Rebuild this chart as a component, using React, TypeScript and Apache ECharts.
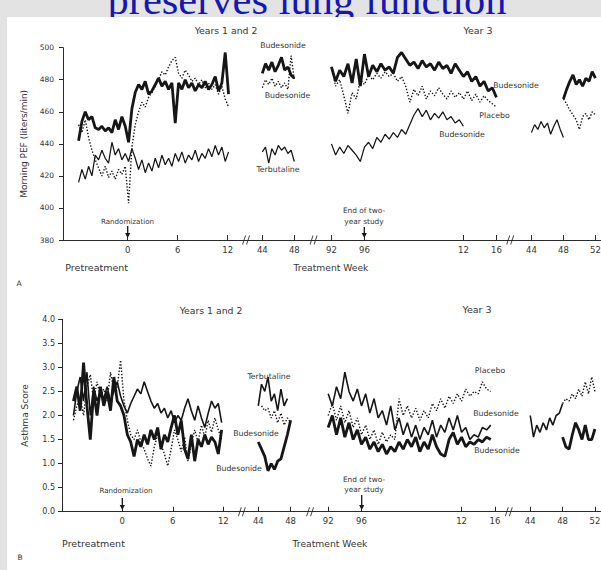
import React, { useEffect, useRef } from "react";
import * as echarts from "echarts";

// ---------- axis ticks ----------
const tickWeeks = [0, 6, 12, 44, 48, 92, 96, 108, 112, 140, 144, 148];
const tickLabels = ["0", "6", "12", "44", "48", "92", "96", "12", "16", "44", "48", "52"];
const breakPositions = [14.2, 22.3, 45.9];
const pefTicks = { min: 380, max: 500, interval: 20 };
const scoreTicks = { min: 0, max: 4, interval: 0.5 };

// ---------- Morning PEF (panel A) ----------
// years 1-2, weeks -5.9 .. 12.1, step 0.4
const pefThickA = [442,454,460,455,457,450,449,451,448,450,447,455,449,457,451,441,462,472,477,474,479,471,473,477,481,476,479,474,478,453,478,474,480,475,478,473,477,475,479,474,477,482,473,478,497,471];
const pefDotA = [452,447,455,444,436,430,425,420,426,419,423,418,424,421,426,403,438,452,460,466,463,469,472,476,480,485,483,488,492,494,484,481,486,483,479,481,477,480,475,478,474,477,471,476,468,463];
const pefThinA = [416,424,418,426,420,433,430,436,431,428,441,433,437,430,434,429,437,431,424,430,422,428,423,431,425,433,427,431,426,434,429,435,428,433,430,436,429,434,431,437,432,439,433,438,429,435];
// weeks 44 .. 48, step 0.4
const pefThickB = [484,490,486,491,485,489,494,486,488,483,481];
const pefDotB = [475,480,477,481,476,479,475,478,474,495,480];
const pefThinB = [435,438,428,437,433,439,436,438,434,436,429];
// weeks 92 .. 112, step 0.5
const pefThickC = [488,479,486,482,490,478,493,476,496,482,489,485,490,486,488,484,494,497,493,489,491,487,492,488,490,486,491,487,489,484,490,486,482,485,479,482,476,479,473,475,469];
const pefDotC = [488,476,480,470,459,472,468,480,477,483,480,484,481,485,482,484,479,482,476,466,474,470,476,468,473,470,475,471,468,473,469,472,468,473,467,471,466,470,467,465,463];
const pefThinC = [440,433,438,434,439,436,433,429,438,441,437,444,441,446,443,447,444,449,446,452,458,462,457,461,455,459,456,460,455,457,453,455,451];
// weeks 140/144 .. , step 0.4
const pefThickD = [468,474,479,483,477,480,476,481,479,485,481];
const pefDotD = [468,465,461,458,455,449,457,459,455,460,458];
const pefThinD = [447,452,449,454,450,453,446,451,455,449,444];

// ---------- Asthma score (panel B) ----------
// weeks -5.8 .. 11.8, step 0.4
const scoreThickA = [2.3,2.6,2.1,3.1,2.2,1.5,2.5,2.0,2.6,2.2,2.5,2.1,2.8,2.3,2.2,2.0,1.6,1.45,1.15,1.5,1.35,1.6,1.4,1.7,1.5,1.75,1.3,1.6,1.45,1.75,2.0,1.6,1.9,1.3,1.1,1.6,1.05,1.5,1.35,1.6,1.4,1.55,1.45,1.2,1.7];
const scoreThinA = [2.0,2.5,2.8,2.3,2.9,2.0,2.6,2.3,2.5,2.35,2.6,2.3,2.5,2.7,2.4,2.2,2.05,2.25,2.4,2.55,2.45,2.7,2.5,2.3,2.15,2.25,2.05,2.15,1.95,2.1,1.85,2.0,1.9,2.15,2.35,2.1,1.9,2.2,1.95,1.75,2.05,2.3,2.15,2.25,1.85];
const scoreDotA = [1.9,2.2,2.4,2.0,2.6,2.85,2.3,2.7,2.4,2.55,2.3,2.9,2.5,2.6,3.15,2.3,1.9,1.6,1.5,1.7,1.45,1.3,1.1,0.95,1.35,1.6,1.4,1.2,0.95,1.3,1.7,1.5,1.25,1.55,1.05,1.4,1.7,1.45,1.8,1.55,1.9,1.65,1.95,1.7,1.5];
// weeks 44 .. 48
const scoreThinB = [2.2,2.65,2.5,2.8,2.3,2.45,2.1,2.55,2.2,2.35];
const scoreDotB = [2.2,2.1,2.15,1.95,2.1,1.85,2.05,1.8,1.95,1.85];
const scoreThickB = [1.45,1.3,1.15,0.85,1.0,0.88,1.05,1.1,1.35,1.6,1.9];
// weeks 92 .. 111.5, step 0.5
const scoreThinC = [2.45,2.2,2.6,2.35,2.9,2.5,2.3,2.55,2.2,2.45,2.05,2.35,1.95,2.1,1.8,2.2,1.7,1.95,1.6,1.85,1.55,1.8,1.5,1.75,1.6,1.9,1.55,1.8,1.65,1.95,1.7,2.0,1.65,1.75,1.5,1.6,1.55,1.75,1.7,1.8];
const scoreThickC = [1.75,2.0,1.6,1.95,1.55,1.85,1.5,1.7,1.4,1.55,1.3,1.45,1.25,1.4,1.2,1.35,1.25,1.45,1.3,1.5,1.35,1.55,1.25,1.45,1.3,1.6,1.35,1.2,1.15,1.5,1.65,1.4,1.55,1.35,1.45,1.4,1.5,1.45,1.55,1.5];
const scoreDotC = [2.0,2.25,1.9,2.2,1.85,2.1,1.75,1.95,1.6,1.8,1.5,1.7,1.4,1.65,1.45,1.6,1.5,2.35,2.0,2.2,1.95,2.15,1.9,2.1,1.95,2.25,2.1,2.35,2.15,2.4,2.25,2.45,2.3,2.55,2.4,2.5,2.45,2.7,2.55,2.5];
// weeks 140/144 .. , step 0.4
const scoreThinD = [2.0,1.55,1.8,1.65,1.85,1.7,1.95,1.8,2.0,2.05,2.25];
const scoreDotD = [2.25,2.35,2.3,2.45,2.35,2.55,2.4,2.7,2.45,2.8,2.5];
const scoreThickD = [1.55,1.35,1.3,1.6,1.85,1.7,1.5,1.8,1.5,1.5,1.72];

type Kind = "thick" | "thin" | "dot";
interface Seg { grid: number; kind: Kind; start: number; step: number; values: number[] }

const segments: Seg[] = [
  { grid: 0, kind: "dot", start: -5.9, step: 0.4, values: pefDotA },
  { grid: 0, kind: "thin", start: -5.9, step: 0.4, values: pefThinA },
  { grid: 0, kind: "thick", start: -5.9, step: 0.4, values: pefThickA },
  { grid: 0, kind: "dot", start: 44, step: 0.4, values: pefDotB },
  { grid: 0, kind: "thin", start: 44, step: 0.4, values: pefThinB },
  { grid: 0, kind: "thick", start: 44, step: 0.4, values: pefThickB },
  { grid: 0, kind: "dot", start: 92, step: 0.5, values: pefDotC },
  { grid: 0, kind: "thin", start: 92, step: 0.5, values: pefThinC },
  { grid: 0, kind: "thick", start: 92, step: 0.5, values: pefThickC },
  { grid: 0, kind: "dot", start: 144, step: 0.4, values: pefDotD },
  { grid: 0, kind: "thin", start: 140, step: 0.4, values: pefThinD },
  { grid: 0, kind: "thick", start: 144, step: 0.4, values: pefThickD },
  { grid: 1, kind: "dot", start: -5.8, step: 0.4, values: scoreDotA },
  { grid: 1, kind: "thin", start: -5.8, step: 0.4, values: scoreThinA },
  { grid: 1, kind: "thick", start: -5.8, step: 0.4, values: scoreThickA },
  { grid: 1, kind: "dot", start: 44.4, step: 0.4, values: scoreDotB },
  { grid: 1, kind: "thin", start: 44, step: 0.4, values: scoreThinB },
  { grid: 1, kind: "thick", start: 44, step: 0.4, values: scoreThickB },
  { grid: 1, kind: "dot", start: 92, step: 0.5, values: scoreDotC },
  { grid: 1, kind: "thin", start: 92, step: 0.5, values: scoreThinC },
  { grid: 1, kind: "thick", start: 92, step: 0.5, values: scoreThickC },
  { grid: 1, kind: "dot", start: 144, step: 0.4, values: scoreDotD },
  { grid: 1, kind: "thin", start: 140, step: 0.4, values: scoreThinD },
  { grid: 1, kind: "thick", start: 144, step: 0.4, values: scoreThickD },
];

// broken time axis: week -> position along the drawn axis
function disp(w: number): number {
  if (w <= 30) return w;
  if (w <= 80) return 16.15 + (w - 44) * 0.96;
  if (w <= 120) return 24.45 + (w - 92) * 0.99;
  return 48.45 + (w - 140) * 0.96;
}

const INK = "#161616";
const TXT = "#363636";
const SANS = '"DejaVu Sans", sans-serif';

function lineStyleFor(kind: Kind, grid: number) {
  if (kind === "thick") return { color: INK, width: 2.8 };
  if (kind === "thin") return { color: INK, width: grid === 0 ? 1.25 : 1.6 };
  return { color: INK, width: 1.4, type: [1.4, 1.8] as number[] };
}

function txt(text: string, x: number, y: number, size: number, extra: any = {}) {
  return {
    type: "text",
    z: 20,
    style: {
      text, x, y, fontSize: size, fontFamily: SANS, fill: TXT,
      align: "center", verticalAlign: "middle", ...extra,
    },
  };
}

function arrow(x: number, y1: number, y2: number) {
  return [
    { type: "line", z: 20, shape: { x1: x, y1, x2: x, y2: y2 - 4 }, style: { stroke: INK, lineWidth: 1.3 } },
    { type: "polygon", z: 20, shape: { points: [[x - 2.6, y2 - 5], [x + 2.6, y2 - 5], [x, y2]] }, style: { fill: INK } },
  ];
}

export default function App() {
  const ref = useRef<HTMLDivElement>(null);

  useEffect(() => {
    document.body.style.margin = "0";
    if (!ref.current) return;
    const chart = echarts.init(ref.current, undefined, { renderer: "svg" });
    const tickDisp = tickWeeks.map(disp);
    const labelFor = (v: number) => {
      let best = 0;
      tickDisp.forEach((t, i) => { if (Math.abs(t - v) < Math.abs(tickDisp[best] - v)) best = i; });
      return tickLabels[best];
    };

    const xAxisBase = (grid: number, min: number, max: number) => ({
      type: "value", gridIndex: grid, min, max,
      axisLine: { show: true, onZero: false, lineStyle: { color: "#2a2a2a", width: 1 } },
      axisTick: { show: true, inside: true, length: 5, customValues: tickDisp, lineStyle: { color: "#2a2a2a" } },
      axisLabel: { show: true, customValues: tickDisp, formatter: labelFor, color: TXT, fontSize: 8.5, fontFamily: SANS, margin: 5 },
      splitLine: { show: false },
    });
    const yAxisBase = (grid: number, t: any, name: string, gap: number, fmt: (v: number) => string, fs: number, margin: number) => ({
      type: "value", gridIndex: grid, min: t.min, max: t.max, interval: t.interval,
      name, nameLocation: "middle", nameGap: gap,
      nameTextStyle: { color: TXT, fontSize: 9, fontFamily: SANS },
      axisLine: { show: true, onZero: false, lineStyle: { color: "#2a2a2a", width: 1 } },
      axisTick: { show: true, inside: false, length: 4, lineStyle: { color: "#2a2a2a" } },
      axisLabel: { color: TXT, fontSize: fs, fontFamily: SANS, margin, formatter: fmt },
      splitLine: { show: false },
    });

    const lineSeries = segments.map((s) => ({
      type: "line",
      xAxisIndex: s.grid,
      yAxisIndex: s.grid,
      data: s.values.map((v, i) => [disp(s.start + i * s.step), v]),
      showSymbol: false,
      symbol: "none",
      silent: true,
      z: s.kind === "thick" ? 4 : s.kind === "thin" ? 3 : 2,
      lineStyle: lineStyleFor(s.kind, s.grid),
    }));

    const breakSeries = [0, 1].map((g) => ({
      type: "scatter",
      xAxisIndex: g,
      yAxisIndex: g,
      data: breakPositions.map((p) => [p, g === 0 ? pefTicks.min : scoreTicks.min]),
      symbol: "path://M0,10L3,0M4,10L7,0",
      symbolSize: [7, 9],
      itemStyle: { color: "none", borderColor: "#222", borderWidth: 1.1 },
      silent: true,
      z: 6,
    }));

    const graphic: any[] = [
      { type: "rect", z: -30, shape: { x: 0, y: 0, width: 601, height: 570 }, style: { fill: "#e3e3e3" } },
      { type: "text", z: -20, style: { text: "preserves lung function", x: 307, y: -1, fontSize: 42.5, fontFamily: '"Liberation Serif", serif', fill: "#1616b4", align: "center", verticalAlign: "middle" } },
      { type: "rect", z: -10, shape: { x: 7, y: 17, width: 594, height: 553 }, style: { fill: "#ffffff" } },
      // panel A
      txt("Years 1 and 2", 226, 30, 9.3),
      txt("Year 3", 478, 30, 9.5),
      txt("Budesonide", 283, 45, 7.8),
      txt("Budesonide", 287.5, 95, 7.8),
      txt("Terbutaline", 278, 169, 7.8),
      txt("Budesonide", 516, 85, 7.8),
      txt("Placebo", 494.5, 115, 7.8),
      txt("Budesonide", 462, 134, 7.8),
      txt("Randomization", 127.5, 221, 7.1),
      txt("End of two-\nyear study", 364, 216, 7.4, { lineHeight: 11 }),
      ...arrow(127.7, 226, 238),
      ...arrow(364.3, 227, 238),
      txt("Pretreatment", 96.7, 267, 9.5),
      txt("Treatment Week", 331, 267, 9.2),
      txt("A", 19, 283, 7.5),
      // panel B
      txt("Years 1 and 2", 211, 310, 9.3),
      txt("Year 3", 477, 309, 9.5),
      txt("Terbutaline", 269, 376, 7.8),
      txt("Budesonide", 256, 433, 7.8),
      txt("Budesonide", 239, 468, 7.8),
      txt("Placebo", 490, 370, 7.8),
      txt("Budesonide", 496, 413, 7.8),
      txt("Budesonide", 497, 450, 7.8),
      txt("Randomization", 126, 490, 7.1),
      txt("End of two-\nyear study", 364, 484, 7.4, { lineHeight: 10 }),
      ...arrow(122.3, 498, 510),
      ...arrow(361.7, 495, 510),
      txt("Pretreatment", 93.5, 543, 9.5),
      txt("Treatment Week", 330, 543, 9.2),
      txt("B", 20, 557, 7.5),
    ];

    chart.setOption({
      animation: false,
      backgroundColor: "transparent",
      textStyle: { fontFamily: SANS },
      grid: [
        { left: 63, top: 47.7, width: 538, height: 192.3, containLabel: false, outerBoundsMode: "none" },
        { left: 62, top: 319.3, width: 539, height: 192.4, containLabel: false, outerBoundsMode: "none" },
      ],
      xAxis: [xAxisBase(0, -7.77, 56.8), xAxisBase(1, -7.16, 56.85)],
      yAxis: [
        yAxisBase(0, pefTicks, "Morning PEF (liters/min)", 26, (v) => String(v), 7.5, 9),
        yAxisBase(1, scoreTicks, "Asthma Score", 33, (v) => v.toFixed(1), 8, 7),
      ],
      series: [...lineSeries, ...breakSeries],
      graphic,
    });

    return () => chart.dispose();
  }, []);

  return <div ref={ref} style={{ width: 601, height: 570 }} />;
}
